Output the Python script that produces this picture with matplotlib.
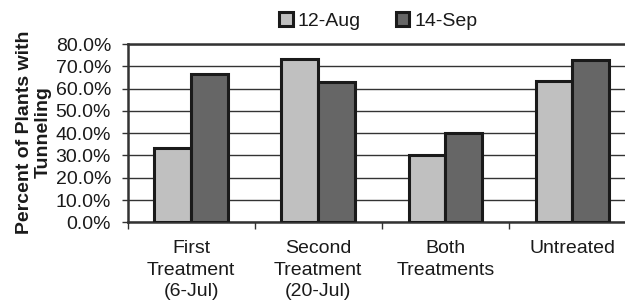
import numpy as np
import matplotlib
matplotlib.use("Agg")
import matplotlib.pyplot as plt

plt.rcParams['font.family'] = ['Liberation Sans', 'DejaVu Sans']

categories = ["First\nTreatment\n(6-Jul)", "Second\nTreatment\n(20-Jul)",
              "Both\nTreatments", "Untreated"]
series_names = ["12-Aug", "14-Sep"]
aug_vals = [33.3, 73.3, 30.0, 63.3]
sep_vals = [66.7, 63.0, 40.0, 73.0]
yticks = [0, 10, 20, 30, 40, 50, 60, 70, 80]

fig = plt.figure(figsize=(6.25, 3.0), dpi=100)
# plot area runs a little past the right edge, as in the reference
ax = fig.add_axes([0.2043, 0.259, 0.8133, 0.594])

x = np.arange(len(categories)) + 0.5
w = 0.29
edge = '#1a1a1a'
ax.bar(x - w / 2, aug_vals, w, color='#c0c0c0', edgecolor=edge, linewidth=2.2,
       label=series_names[0], zorder=3)
ax.bar(x + w / 2, sep_vals, w, color='#666666', edgecolor=edge, linewidth=2.2,
       label=series_names[1], zorder=3)

ax.set_xlim(0, len(categories))
ax.set_ylim(0, 80)
ax.set_yticks(yticks)
ax.set_yticklabels(["%.1f%%" % v for v in yticks], fontsize=14, color='#1a1a1a')
ax.yaxis.grid(True, color='#333333', linewidth=1.0, zorder=0)
ax.set_axisbelow(True)

ax.set_xticks(np.arange(len(categories) + 1))
ax.set_xticklabels([])
ax.set_xticks(x, minor=True)
ax.set_xticklabels(categories, minor=True, fontsize=14, color='#1a1a1a',
                   linespacing=1.33)
ax.tick_params(axis='x', which='major', length=5, width=1, color='#333333',
               direction='out')
ax.tick_params(axis='x', which='minor', length=0, pad=13)
ax.tick_params(axis='y', length=4, width=1, color='#333333', pad=8)

for s in ['top', 'left', 'bottom', 'right']:
    ax.spines[s].set_color('#333333')
    ax.spines[s].set_linewidth(1.8)

fig.text(0.054, 0.56, "Percent of Plants with\nTunneling", rotation=90,
         ha='center', va='center', multialignment='center', fontsize=14,
         fontweight='bold', color='#1a1a1a', linespacing=1.15)

leg = fig.legend(loc='center', bbox_to_anchor=(0.605, 0.93), ncol=2,
                 frameon=False, fontsize=14, handlelength=0.7,
                 handleheight=0.7, handletextpad=0.25, columnspacing=1.8)
for t in leg.get_texts():
    t.set_color('#1a1a1a')

fig.savefig("out.png", dpi=100)
